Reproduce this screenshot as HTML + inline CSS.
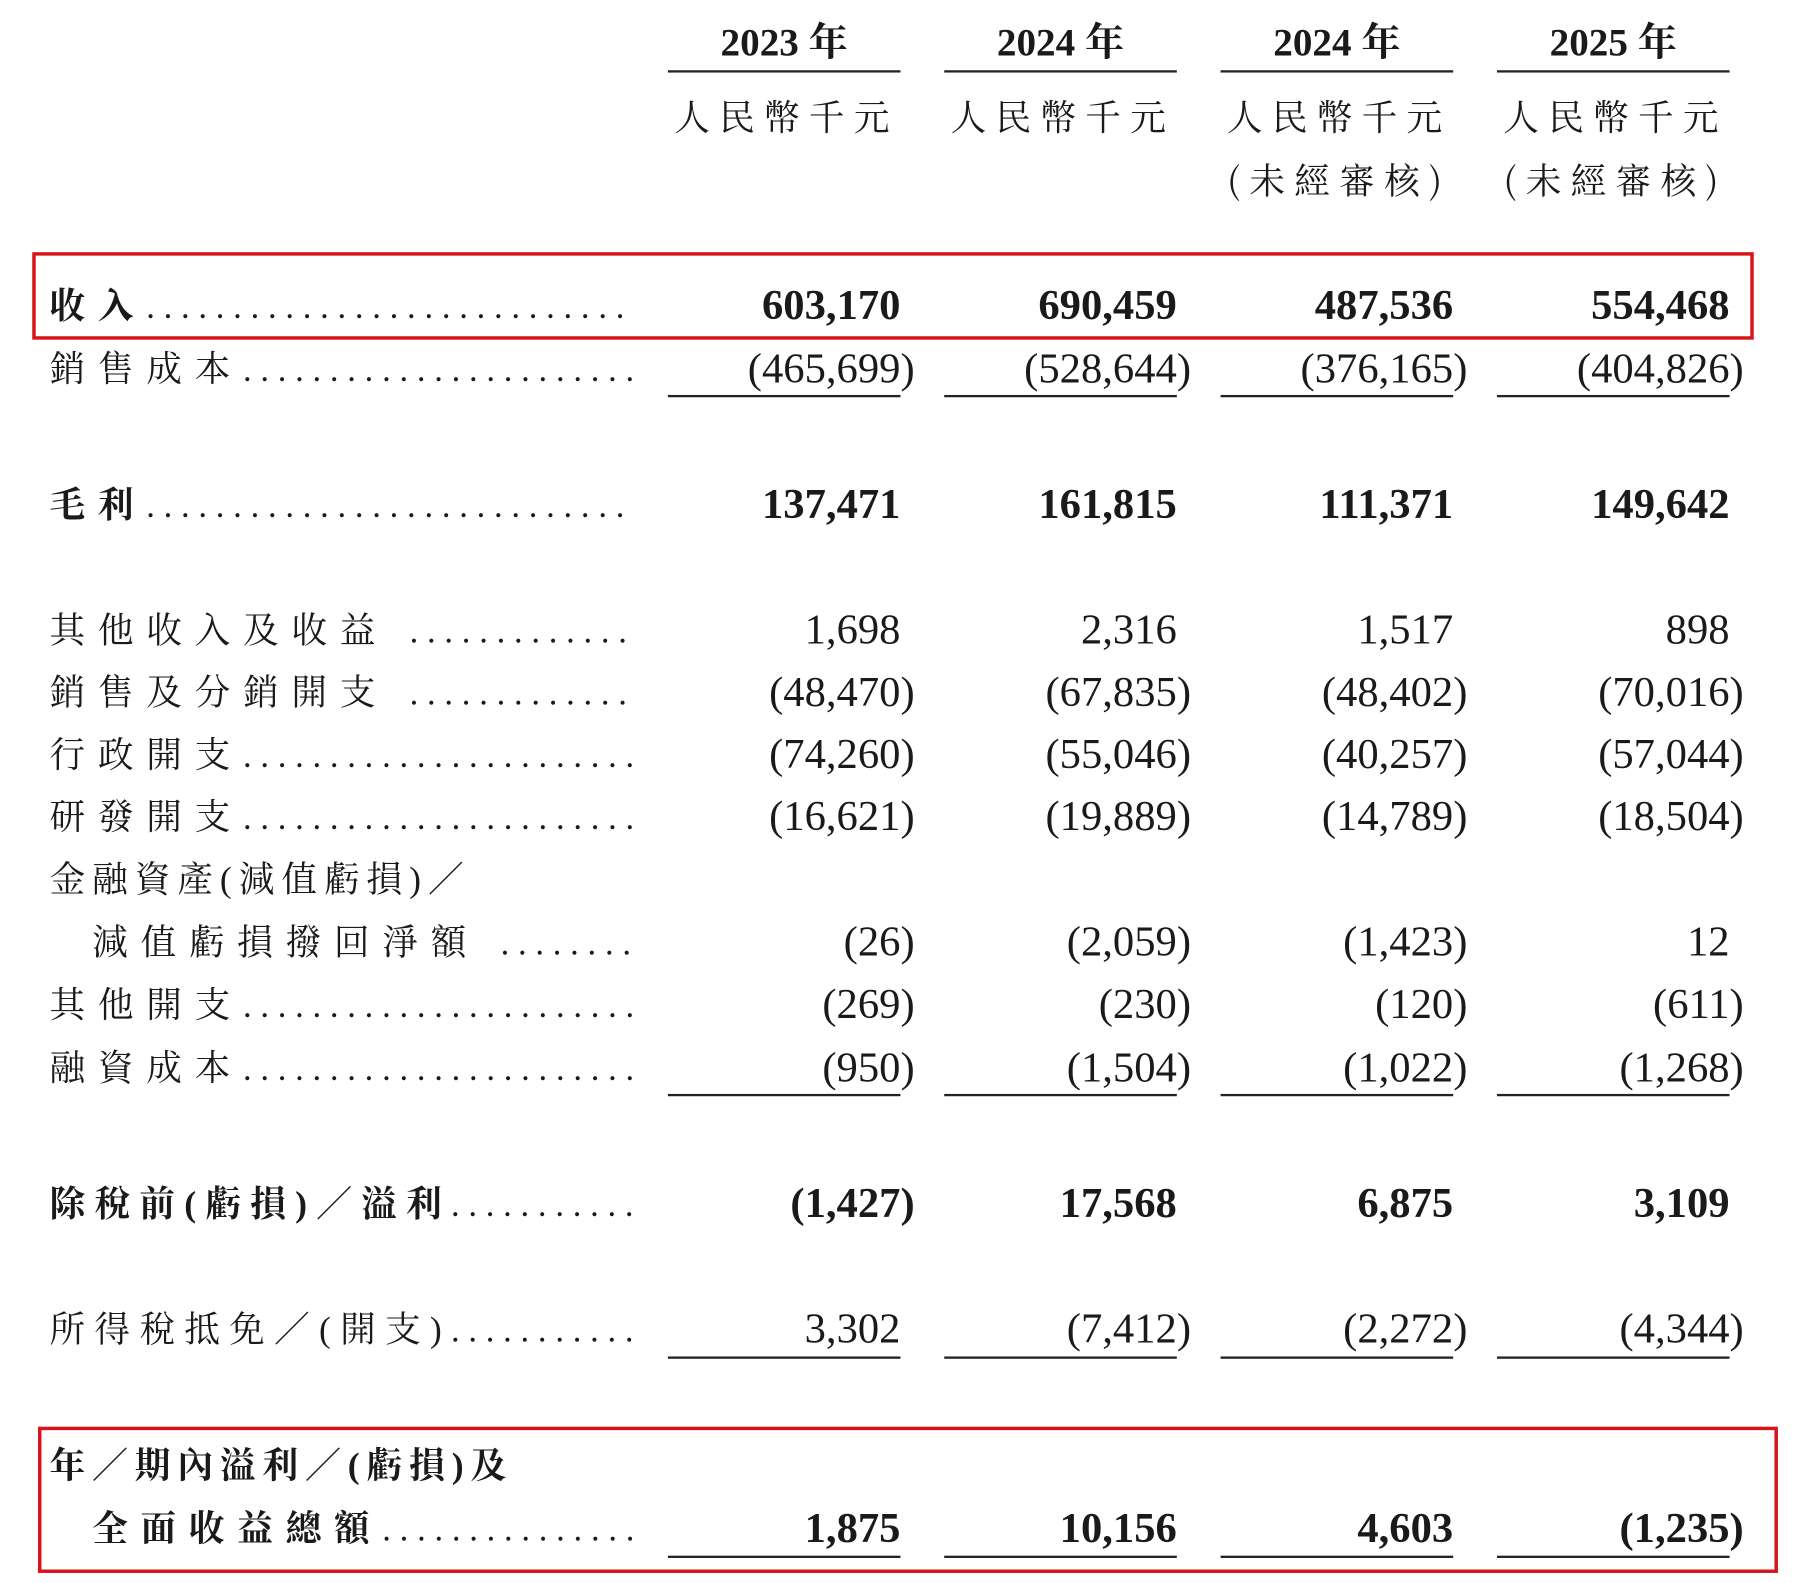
<!DOCTYPE html>
<html><head><meta charset="utf-8"><style>
html,body{margin:0;padding:0;background:#fff;}
body{width:1804px;height:1580px;overflow:hidden;position:relative;}
.w{position:absolute;left:0;top:0;width:1570px;height:1372px;transform:scale(1.1515);transform-origin:0 0;color:#1a1a1a;}
.r{position:absolute;left:0;top:3px;width:1570px;height:1372px;}
.a{position:absolute;white-space:nowrap;}
.yr{font-family:"Liberation Serif","Noto Serif CJK SC",serif;font-weight:bold;font-size:34px;width:202px;text-align:center;line-height:40px;}
.un{font-family:"Noto Serif CJK SC","Noto Sans CJK TC",serif;font-size:31px;width:210px;text-align:center;letter-spacing:8px;line-height:40px;}
.ln{position:absolute;height:2px;background:#222;width:202px;}
.lb{font-family:"Liberation Serif","Noto Serif CJK SC",serif;font-size:31px;letter-spacing:11px;line-height:40px;overflow:hidden;width:508px;}
.lb .d{font-family:"Liberation Serif",serif;letter-spacing:7.6px;font-size:30px;font-weight:normal;}
.b{font-weight:bold;}
.n{font-family:"Liberation Serif",serif;font-size:37px;line-height:40px;text-align:right;width:200px;}
.n i{font-style:normal;position:absolute;left:100%;top:0;}
.box{position:absolute;border:3px solid #d7141c;box-sizing:border-box;}
</style></head><body><div class="w">
<div class="a yr" style="left:580px;top:18px">2023 年</div>
<div class="a yr" style="left:820px;top:18px">2024 年</div>
<div class="a yr" style="left:1060px;top:18px">2024 年</div>
<div class="a yr" style="left:1300px;top:18px">2025 年</div>
<div class="ln" style="left:580px;top:61px"></div><div class="ln" style="left:820px;top:61px"></div><div class="ln" style="left:1060px;top:61px"></div><div class="ln" style="left:1300px;top:61px"></div>
<div class="a un" style="left:578px;top:80px">人民幣千元</div>
<div class="a un" style="left:818px;top:80px">人民幣千元</div>
<div class="a un" style="left:1058px;top:80px">人民幣千元</div>
<div class="a un" style="left:1298px;top:80px">人民幣千元</div>
<div class="a un" style="left:1058px;top:135px">(未經審核)</div>
<div class="a un" style="left:1298px;top:135px">(未經審核)</div>

<div class="box" style="left:28px;top:219px;width:1495px;height:76px"></div>
<div class="box" style="left:33px;top:1239px;width:1511px;height:127px"></div>

<div class="ln" style="left:580px;top:343px"></div><div class="ln" style="left:820px;top:343px"></div><div class="ln" style="left:1060px;top:343px"></div><div class="ln" style="left:1300px;top:343px"></div>
<div class="ln" style="left:580px;top:950px"></div><div class="ln" style="left:820px;top:950px"></div><div class="ln" style="left:1060px;top:950px"></div><div class="ln" style="left:1300px;top:950px"></div>
<div class="ln" style="left:580px;top:1178px"></div><div class="ln" style="left:820px;top:1178px"></div><div class="ln" style="left:1060px;top:1178px"></div><div class="ln" style="left:1300px;top:1178px"></div>
<div class="ln" style="left:580px;top:1351px"></div><div class="ln" style="left:820px;top:1351px"></div><div class="ln" style="left:1060px;top:1351px"></div><div class="ln" style="left:1300px;top:1351px"></div>
<div class="r">
<div class="a lb b" style="left:43px;top:243px">收入<span class="d">.......................................</span></div>
<div class="a n b" style="left:582px;top:243px">603,170</div><div class="a n b" style="left:822px;top:243px">690,459</div><div class="a n b" style="left:1062px;top:243px">487,536</div><div class="a n b" style="left:1302px;top:243px">554,468</div>

<div class="a lb" style="left:43px;top:298px">銷售成本<span class="d">.......................................</span></div>
<div class="a n" style="left:582px;top:298px">(465,699<i>)</i></div><div class="a n" style="left:822px;top:298px">(528,644<i>)</i></div><div class="a n" style="left:1062px;top:298px">(376,165<i>)</i></div><div class="a n" style="left:1302px;top:298px">(404,826<i>)</i></div>

<div class="a lb b" style="left:43px;top:416px">毛利<span class="d">.......................................</span></div>
<div class="a n b" style="left:582px;top:416px">137,471</div><div class="a n b" style="left:822px;top:416px">161,815</div><div class="a n b" style="left:1062px;top:416px">111,371</div><div class="a n b" style="left:1302px;top:416px">149,642</div>

<div class="a lb" style="left:43px;top:525px">其他收入及收益 <span class="d">.......................................</span></div>
<div class="a n" style="left:582px;top:525px">1,698</div><div class="a n" style="left:822px;top:525px">2,316</div><div class="a n" style="left:1062px;top:525px">1,517</div><div class="a n" style="left:1302px;top:525px">898</div>

<div class="a lb" style="left:43px;top:579px">銷售及分銷開支 <span class="d">.......................................</span></div>
<div class="a n" style="left:582px;top:579px">(48,470<i>)</i></div><div class="a n" style="left:822px;top:579px">(67,835<i>)</i></div><div class="a n" style="left:1062px;top:579px">(48,402<i>)</i></div><div class="a n" style="left:1302px;top:579px">(70,016<i>)</i></div>

<div class="a lb" style="left:43px;top:633px">行政開支<span class="d">.......................................</span></div>
<div class="a n" style="left:582px;top:633px">(74,260<i>)</i></div><div class="a n" style="left:822px;top:633px">(55,046<i>)</i></div><div class="a n" style="left:1062px;top:633px">(40,257<i>)</i></div><div class="a n" style="left:1302px;top:633px">(57,044<i>)</i></div>

<div class="a lb" style="left:43px;top:687px">研發開支<span class="d">.......................................</span></div>
<div class="a n" style="left:582px;top:687px">(16,621<i>)</i></div><div class="a n" style="left:822px;top:687px">(19,889<i>)</i></div><div class="a n" style="left:1062px;top:687px">(14,789<i>)</i></div><div class="a n" style="left:1302px;top:687px">(18,504<i>)</i></div>

<div class="a lb" style="left:43px;top:741px;letter-spacing:6px">金融資產(減值虧損)／</div>
<div class="a lb" style="left:80px;top:796px;width:471px">減值虧損撥回淨額 <span class="d">.......................................</span></div>
<div class="a n" style="left:582px;top:796px">(26<i>)</i></div><div class="a n" style="left:822px;top:796px">(2,059<i>)</i></div><div class="a n" style="left:1062px;top:796px">(1,423<i>)</i></div><div class="a n" style="left:1302px;top:796px">12</div>

<div class="a lb" style="left:43px;top:850px">其他開支<span class="d">.......................................</span></div>
<div class="a n" style="left:582px;top:850px">(269<i>)</i></div><div class="a n" style="left:822px;top:850px">(230<i>)</i></div><div class="a n" style="left:1062px;top:850px">(120<i>)</i></div><div class="a n" style="left:1302px;top:850px">(611<i>)</i></div>

<div class="a lb" style="left:43px;top:905px">融資成本<span class="d">.......................................</span></div>
<div class="a n" style="left:582px;top:905px">(950<i>)</i></div><div class="a n" style="left:822px;top:905px">(1,504<i>)</i></div><div class="a n" style="left:1062px;top:905px">(1,022<i>)</i></div><div class="a n" style="left:1302px;top:905px">(1,268<i>)</i></div>

<div class="a lb b" style="left:43px;top:1023px;letter-spacing:8px">除稅前(虧損)／溢利<span class="d">.......................................</span></div>
<div class="a n b" style="left:582px;top:1023px">(1,427<i>)</i></div><div class="a n b" style="left:822px;top:1023px">17,568</div><div class="a n b" style="left:1062px;top:1023px">6,875</div><div class="a n b" style="left:1302px;top:1023px">3,109</div>

<div class="a lb" style="left:43px;top:1132px;letter-spacing:8px">所得稅抵免／(開支)<span class="d">.......................................</span></div>
<div class="a n" style="left:582px;top:1132px">3,302</div><div class="a n" style="left:822px;top:1132px">(7,412<i>)</i></div><div class="a n" style="left:1062px;top:1132px">(2,272<i>)</i></div><div class="a n" style="left:1302px;top:1132px">(4,344<i>)</i></div>

<div class="a lb b" style="left:43px;top:1250px;letter-spacing:6px">年／期內溢利／(虧損)及</div>
<div class="a lb b" style="left:80px;top:1305px;width:471px">全面收益總額<span class="d">.......................................</span></div>
<div class="a n b" style="left:582px;top:1305px">1,875</div><div class="a n b" style="left:822px;top:1305px">10,156</div><div class="a n b" style="left:1062px;top:1305px">4,603</div><div class="a n b" style="left:1302px;top:1305px">(1,235<i>)</i></div>
</div>
</div>
</body></html>
